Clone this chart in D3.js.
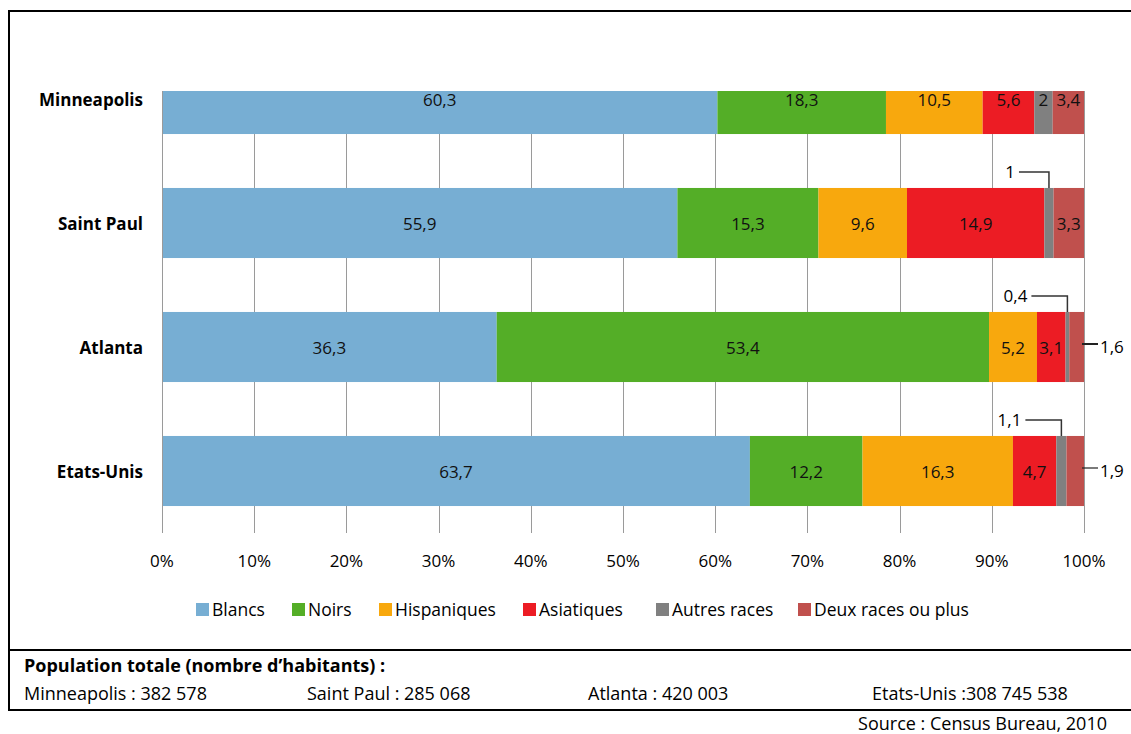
<!DOCTYPE html>
<html>
<head>
<meta charset="utf-8">
<script src="https://cdn.jsdelivr.net/npm/d3@7"></script>
<style>
	body { margin: 0; background: #fff; }
	svg text { font-family: "Open Sans", Lato, sans-serif; }
</style>
</head>
<body>
<svg id="chart"></svg>
<script>
const cities = ["Minneapolis", "Saint Paul", "Atlanta", "Etats-Unis"];
const groups = ["Blancs", "Noirs", "Hispaniques", "Asiatiques", "Autres races", "Deux races ou plus"];
const blancs = [60.3, 55.9, 36.3, 63.7];
const noirs = [18.3, 15.3, 53.4, 12.2];
const hispaniques = [10.5, 9.6, 5.2, 16.3];
const asiatiques = [5.6, 14.9, 3.1, 4.7];
const autres = [2, 1, 0.4, 1.1];
const deux = [3.4, 3.3, 1.6, 1.9];
const colors = ["#77aed3", "#54ae27", "#f8a80d", "#ec1c24", "#808080", "#c0504d"];
const ticks = [0, 10, 20, 30, 40, 50, 60, 70, 80, 90, 100];
const populations = ["Minneapolis : 382 578", "Saint Paul : 285 068", "Atlanta : 420 003", "Etats-Unis :308 745 538"];
const source = "Source : Census Bureau, 2010";

const width = 1131, height = 734;
const fs = "17px";
const svg = d3.select("#chart")
		.attr("width", width)
		.attr("height", height);

const plot = {left: 162, right: 1084, top: 91, bottom: 533};

// one row per city, values normalised to 100 like excel does
const series = [blancs, noirs, hispaniques, asiatiques, autres, deux];
const rows = cities.map((c, i) => {
	const row = {city: c};
	groups.forEach((g, j) => row[g] = series[j][i]);
	return row;
});
const stacked = d3.stack().keys(groups).offset(d3.stackOffsetExpand)(rows);

const x = d3.scaleLinear().domain([0, 1]).range([plot.left, plot.right]);
const y = d3.scaleBand()
		.domain(cities)
		.range([37, plot.bottom])
		.paddingInner(0.435)
		.paddingOuter(0.2175);

svg.append("defs").append("clipPath")
	.attr("id", "plotclip")
	.append("rect")
	.attr("x", plot.left - 1)
	.attr("y", plot.top)
	.attr("width", plot.right - plot.left + 2)
	.attr("height", plot.bottom - plot.top);

// gridlines
svg.append("g")
	.selectAll("line")
	.data(ticks)
	.join("line")
	.attr("x1", d => Math.round(x(d / 100)) + 0.5)
	.attr("x2", d => Math.round(x(d / 100)) + 0.5)
	.attr("y1", plot.top)
	.attr("y2", plot.bottom)
	.style("stroke", "#9a9a9a")
	.style("stroke-width", "1px");

// tick labels
svg.append("g")
	.selectAll("text")
	.data(ticks)
	.join("text")
	.attr("x", d => x(d / 100))
	.attr("y", 567)
	.attr("text-anchor", "middle")
	.style("font-size", fs)
	.text(d => d + "%");

// bars
const barG = svg.append("g").attr("clip-path", "url(#plotclip)");
barG.selectAll("g")
	.data(stacked)
	.join("g")
	.style("fill", (d, i) => colors[i])
	.selectAll("rect")
	.data(d => d)
	.join("rect")
	.attr("x", d => x(d[0]))
	.attr("y", d => y(d.data.city))
	.attr("width", d => x(d[1]) - x(d[0]))
	.attr("height", y.bandwidth());

// labels inside segments (small ones are called out outside)
const callouts = {
	"Saint Paul|Autres races": {tx: -42, kind: "up"},
	"Atlanta|Autres races": {tx: -48, kind: "up"},
	"Atlanta|Deux races ou plus": {kind: "right"},
	"Etats-Unis|Autres races": {tx: -48, kind: "up"},
	"Etats-Unis|Deux races ou plus": {kind: "right"}
};
const fmt = v => String(v).replace(".", ",");

stacked.forEach((s, j) => {
	s.forEach((d, i) => {
		const value = series[j][i];
		const cx = (x(d[0]) + x(d[1])) / 2;
		const cy = y(d.data.city) + y.bandwidth() / 2;
		const key = d.data.city + "|" + s.key;
		const co = callouts[key];
		if (!co) {
			svg.append("text")
				.attr("x", cx)
				.attr("y", cy + 1)
				.attr("dy", "0.35em")
				.attr("text-anchor", "middle")
				.style("font-size", fs)
				.style("fill", "#111")
				.text(fmt(value));
		} else if (co.kind == "up") {
			const top = y(d.data.city);
			const ly = top - 16;
			svg.append("path")
				.attr("d", "M " + (cx + co.tx + 12) + " " + ly + " H " + cx + " V " + top)
				.style("fill", "none")
				.style("stroke", "#333")
				.style("stroke-width", "1.5px");
			svg.append("text")
				.attr("x", cx + co.tx + 8)
				.attr("y", ly)
				.attr("dy", "0.35em")
				.attr("text-anchor", "end")
				.style("font-size", fs)
				.text(fmt(value));
		} else {
			svg.append("line")
				.attr("x1", x(1) - 2)
				.attr("x2", x(1) + 14)
				.attr("y1", cy - 3)
				.attr("y2", cy - 3)
				.style("stroke", "#222")
				.style("stroke-width", i == 2 ? "2px" : "1.2px");
			svg.append("text")
				.attr("x", x(1) + 16)
				.attr("y", cy)
				.attr("dy", "0.35em")
				.style("font-size", fs)
				.text(fmt(value));
		}
	});
});

// y axis line and city names
svg.append("line")
	.attr("x1", plot.left + 0.5)
	.attr("x2", plot.left + 0.5)
	.attr("y1", plot.top)
	.attr("y2", plot.bottom)
	.style("stroke", "#9a9a9a");

svg.append("g")
	.selectAll("text")
	.data(cities)
	.join("text")
	.attr("x", 143)
	.attr("y", d => y(d) + y.bandwidth() / 2 + 1)
	.attr("dy", "0.35em")
	.attr("text-anchor", "end")
	.style("font-size", fs)
	.style("font-weight", "bold")
	.text(d => d);

// legend
const legendX = [196, 292, 379, 523, 656, 798];
const leg = svg.append("g")
		.selectAll("g")
		.data(groups)
		.join("g")
		.attr("transform", (d, i) => "translate(" + legendX[i] + ",603)");
leg.append("rect")
	.attr("width", 13)
	.attr("height", 13)
	.style("fill", (d, i) => colors[i]);
leg.append("text")
	.attr("x", 16)
	.attr("y", 7)
	.attr("dy", "0.35em")
	.style("font-size", "17.5px")
	.text(d => d);

// frame
svg.append("rect")
	.attr("x", 9)
	.attr("y", 11)
	.attr("width", 1140)
	.attr("height", 699)
	.style("fill", "none")
	.style("stroke", "#000")
	.style("stroke-width", "2px");
svg.append("line")
	.attr("x1", 9)
	.attr("x2", width)
	.attr("y1", 650)
	.attr("y2", 650)
	.style("stroke", "#000")
	.style("stroke-width", "2px");

// population block
svg.append("text")
	.attr("x", 24)
	.attr("y", 672)
	.style("font-size", "18px")
	.style("font-weight", "bold")
	.text("Population totale (nombre d\u2019habitants) :");

const popX = [24, 307, 588, 872];
svg.append("g")
	.selectAll("text")
	.data(populations)
	.join("text")
	.attr("x", (d, i) => popX[i])
	.attr("y", 700)
	.style("font-size", "18px")
	.text(d => d);

svg.append("text")
	.attr("x", 1107)
	.attr("y", 730)
	.attr("text-anchor", "end")
	.style("font-size", "18px")
	.text(source);
</script>
</body>
</html>
